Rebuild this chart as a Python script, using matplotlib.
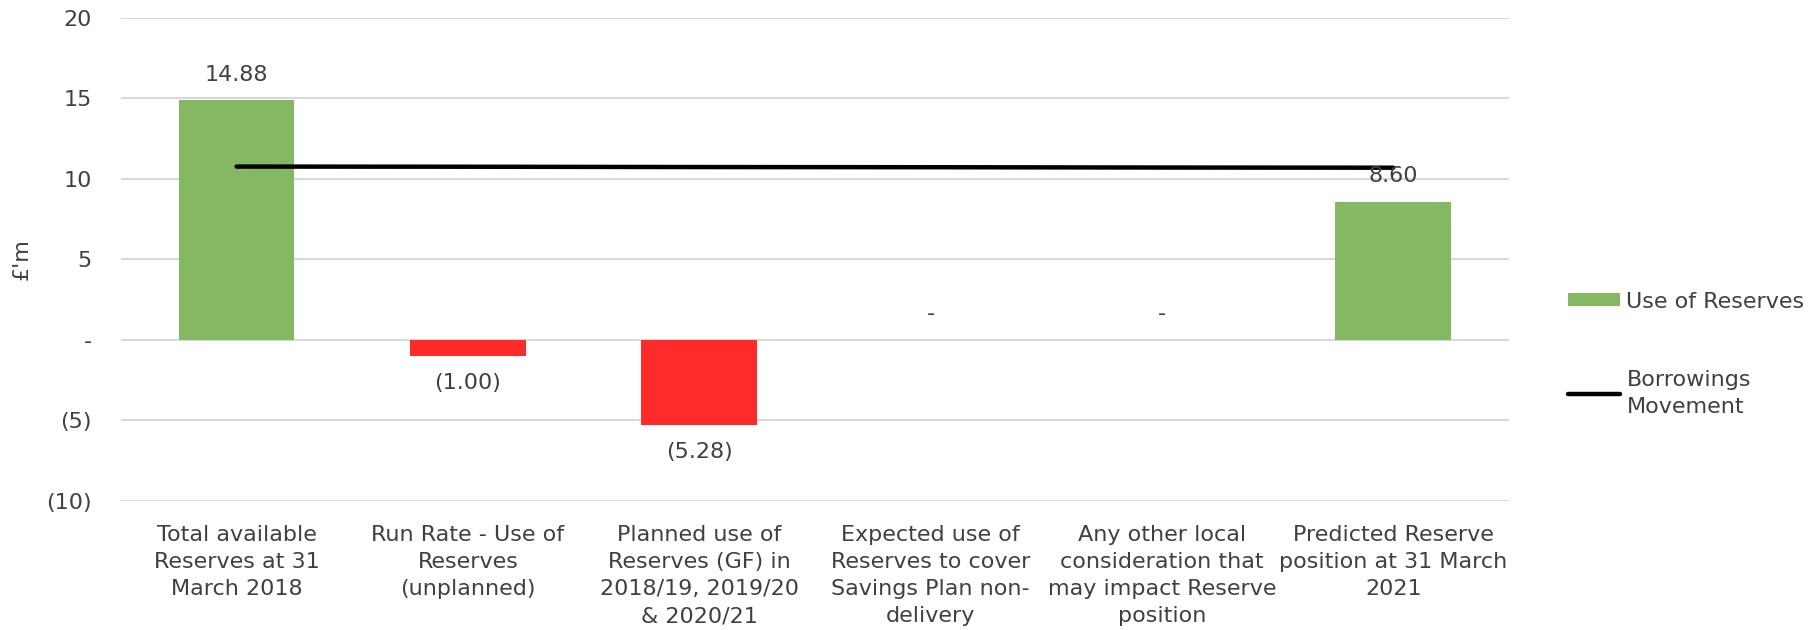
import numpy as np
import matplotlib.pyplot as plt
from matplotlib.ticker import FuncFormatter

categories = ["Total available\nReserves at 31\nMarch 2018",
              "Run Rate - Use of\nReserves\n(unplanned)",
              "Planned use of\nReserves (GF) in\n2018/19, 2019/20\n& 2020/21",
              "Expected use of\nReserves to cover\nSavings Plan non-\ndelivery",
              "Any other local\nconsideration that\nmay impact Reserve\nposition",
              "Predicted Reserve\nposition at 31 March\n2021"]
reserves = [14.88, -1.00, -5.28, 0.0, 0.0, 8.60]
borrowings = [10.77, 10.76, 10.74, 10.73, 10.71, 10.70]

green = "#85b862"
red = "#ff2a2a"
txt = "#404040"
fs = 16

plt.rcParams['font.family'] = ['DejaVu Sans']
plt.rcParams['font.size'] = fs

def fmt(v):
    if abs(v) < 1e-9:
        return "-"
    if v < 0:
        return "({:.2f})".format(-v)
    return "{:.2f}".format(v)

def tick_fmt(v, pos):
    if abs(v) < 1e-9:
        return "-"
    if v < 0:
        return "({:.0f})".format(-v)
    return "{:.0f}".format(v)

fig = plt.figure(figsize=(18.11, 6.3), dpi=100)
ax = fig.add_axes([0.0668, 0.2048, 0.7664, 0.7667])

x = np.arange(len(categories))
colors = [green if v >= 0 else red for v in reserves]
bars = ax.bar(x, reserves, width=0.5, color=colors, zorder=2)
ax.plot(x, borrowings, color="black", lw=3.2, solid_capstyle="round", zorder=3)

for xi, v in zip(x, reserves):
    off = -1.65 if v < 0 else 1.6
    ax.text(xi, v + off, fmt(v), ha="center", va="center", color=txt)

ax.set_xlim(-0.5, len(categories) - 0.5)
ax.set_ylim(-10, 20)
ax.set_yticks(np.arange(-10, 21, 5))
ax.yaxis.set_major_formatter(FuncFormatter(tick_fmt))
ax.set_xticks(x)
ax.set_xticklabels(categories, color=txt, linespacing=1.45)
ax.tick_params(axis="both", length=0, colors=txt, labelsize=fs)
ax.tick_params(axis="x", pad=17)
ax.tick_params(axis="y", pad=21)
ax.grid(axis="y", color="#d9d9d9", lw=1.5, zorder=0)
ax.set_axisbelow(True)
for s in ax.spines.values():
    s.set_visible(False)

fig.text(22 / 1811, 1 - 259 / 630, "£'m", rotation=90, ha="center",
         va="center", color=txt, fontsize=fs)

handles = [bars[0], ax.lines[0]]
leg = fig.legend(handles, ["Use of Reserves", "Borrowings\nMovement"],
                 loc="upper left", bbox_to_anchor=(0.855, 0.569), frameon=False,
                 handlelength=2.34, handleheight=0.55, handletextpad=0.27,
                 labelspacing=2.65, labelcolor=txt, fontsize=fs)
for t in leg.get_texts():
    t.set_linespacing(1.4)

fig.savefig("out.png", dpi=100)
